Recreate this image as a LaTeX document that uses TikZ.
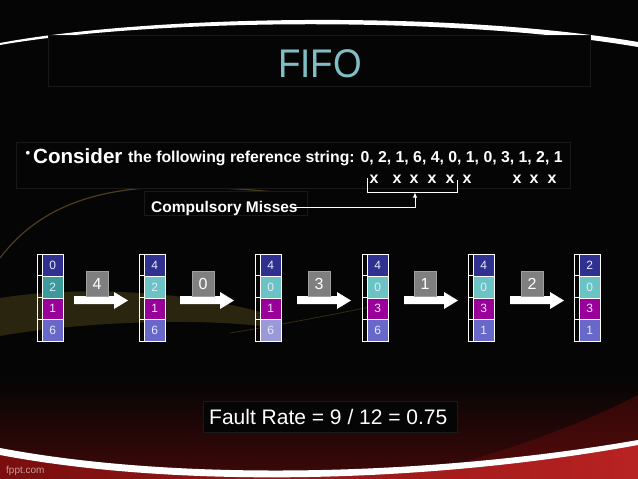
\documentclass[tikz,border=0pt]{standalone}
\usepackage{fontspec}
\setmainfont{Liberation Sans}
\usepackage{graphicx}
\usetikzlibrary{arrows.meta}
\definecolor{bgblack}{HTML}{050505}
\definecolor{boxline}{HTML}{191919}
\definecolor{titlecol}{HTML}{7EBEC4}
\definecolor{cdblue}{HTML}{2F3090}
\definecolor{cteal}{HTML}{3C9A9C}
\definecolor{clteal}{HTML}{6CC3C3}
\definecolor{cpurple}{HTML}{990099}
\definecolor{cslate}{HTML}{6868C8}
\definecolor{clslate}{HTML}{9A9AD8}
\definecolor{gbox}{HTML}{7F7F7F}
\definecolor{gboxline}{HTML}{A0A0A0}
\definecolor{celltext}{HTML}{E8E8FF}
\definecolor{redA}{HTML}{7A0E0E}
\definecolor{redB}{HTML}{B82222}
\definecolor{redDark}{HTML}{3A0808}
\definecolor{goldglow}{HTML}{3A3314}
\definecolor{goldline}{HTML}{7A6530}
\definecolor{fpptcol}{HTML}{C89A9A}
\begin{document}
\begin{tikzpicture}[x=1pt,y=-1pt,
  txtbox/.style={draw=boxline, fill=bgblack, line width=0.6pt},
  cellfront/.style={draw=white, line width=0.8pt, minimum width=20.5pt, minimum height=21.75pt, inner sep=0pt, anchor=north west, text=celltext, font=\fontsize{12}{14}\selectfont},
  cellback/.style={draw=white, line width=0.8pt},
  newpage/.style={draw=gboxline, fill=gbox, line width=0.6pt, minimum width=21.5pt, minimum height=25pt, inner sep=0pt, anchor=south west, text=white, font=\fontsize{16}{18}\selectfont},
  blockarrow/.style={fill=white},
  plaintext/.style={inner sep=0pt, text=white},
  missline/.style={white, line width=0.9pt}
]
% background
\useasboundingbox (0,0) rectangle (638,479);
\fill[bgblack] (0,0) rectangle (638,479);
% gold glow and swoosh on the left
\fill[goldglow, opacity=0.7] (0,298) .. controls (80,285) and (190,292) .. (260,312) -- (260,326) .. controls (190,318) and (80,322) .. (0,336) -- cycle;
\draw[goldline, line width=1.2pt, opacity=0.6] (0,258) .. controls (40,205) and (100,188) .. (170,187) .. controls (220,187) and (260,190) .. (290,194);
\draw[goldline, line width=0.8pt, opacity=0.4] (230,333) .. controls (280,325) and (330,315) .. (380,305);
% dark red glow above the bottom curve
\shade[top color=bgblack, bottom color=redDark] (0,380) rectangle (638,470);
\fill[redA, opacity=0.35] (470,460) .. controls (540,440) and (600,415) .. (638,395) -- (638,445) .. controls (580,460) and (520,466) .. (470,468) -- cycle;
% bottom red area
\shade[left color=redA, right color=redB] (0,452) .. controls (180,486) and (430,480) .. (638,443) -- (638,479) -- (0,479) -- cycle;
% bottom white curve
\fill[white] (0,448) .. controls (180,482) and (430,476) .. (638,440) -- (638,445) .. controls (430,483) and (180,489) .. (0,455) -- cycle;
% top white arc
\fill[white] (0,43) .. controls (150,15) and (450,10) .. (638,42) -- (638,47) .. controls (450,15) and (150,19) .. (0,45) -- cycle;
% text boxes
\draw[txtbox] (48,35) rectangle (590,86);
\draw[txtbox] (16,142) rectangle (570,188);
\draw[txtbox] (144,191) rectangle (307,215);
\draw[txtbox] (203,401) rectangle (457,432);
% title
\node[inner sep=0pt, text=titlecol, font=\fontsize{40}{44}\selectfont, anchor=base] (title) at (320,77) {\scalebox{0.92}[1]{FIFO}};
% reference string
\node[plaintext, anchor=center, font=\fontsize{13}{15}\selectfont\bfseries] (bul) at (28,154) {•};
\node[plaintext, anchor=base west, font=\fontsize{20.6}{24}\selectfont\bfseries] (cons) at (33,163) {Consider};
\node[plaintext, anchor=base west, font=\fontsize{15.8}{19}\selectfont\bfseries] (refs) at (128,162.5) {the following reference string: 0, 2, 1, 6, 4, 0, 1, 0, 3, 1, 2, 1};
% misses
\foreach \xx [count=\i] in {374,397,414,432,450,467,517,534,552}
  \node[plaintext, anchor=base, font=\fontsize{16}{19}\selectfont\bfseries] (x\i) at (\xx,183.5) {x};
% bracket and arrow
\coordinate (bTL) at (367,178);
\coordinate (bBL) at (367,192);
\coordinate (bBR) at (457,192);
\coordinate (bTR) at (457,180);
\coordinate (bMid) at (415,192.5);
\draw[missline] (bTL) -- (bBL) -- (bBR) -- (bTR);
\node[plaintext, anchor=base west, font=\fontsize{15.5}{18}\selectfont\bfseries] (cm) at (151,212) {Compulsory Misses};
\coordinate (cmStart) at (293,207);
\draw[missline, -{Latex[length=5pt,width=4.5pt]}] (cmStart) -| (bMid);
% stacks
\foreach \xl/\a/\ac/\b/\bc/\c/\cc/\d/\dc/\s in {
  42/0/cdblue/2/cteal/1/cpurple/6/cslate/1,
  144/4/cdblue/2/clteal/1/cpurple/6/cslate/2,
  260/4/cdblue/0/clteal/1/cpurple/6/clslate/3,
  367/4/cdblue/0/clteal/3/cpurple/6/cslate/4,
  473/4/cdblue/0/clteal/3/cpurple/1/cslate/5,
  579/2/cdblue/0/clteal/3/cpurple/1/cslate/6}{
  \foreach \k in {0,1,2,3}
    \draw[cellback] (\xl-5,254+\k*21.75) rectangle +(20.5,21.75);
  \node[cellfront, fill=\ac] (s\s a) at (\xl,254) {\a};
  \node[cellfront, fill=\bc] (s\s b) at (\xl,275.75) {\b};
  \node[cellfront, fill=\cc] (s\s c) at (\xl,297.5) {\c};
  \node[cellfront, fill=\dc] (s\s d) at (\xl,319.25) {\d};
}
% block arrows and new pages
\foreach \ax/\px/\pv [count=\i] in {74/86/4,180/192/0,297/308/3,404/414/1,510/521/2}{
  \fill[blockarrow] (\ax,296) -- (\ax+40,296) -- (\ax+40,292) -- (\ax+54,300.5) -- (\ax+40,309) -- (\ax+40,304) -- (\ax,304) -- cycle;
  \node[newpage] (p\i) at (\px,296.5) {\pv};
}
% fault rate
\node[plaintext, anchor=base west, font=\fontsize{21}{25}\selectfont] (fault) at (209,424) {Fault Rate = 9 / 12 = 0.75};
% footer
\node[inner sep=0pt, anchor=base west, text=fpptcol, font=\fontsize{10}{12}\selectfont] (fppt) at (6,473) {fppt.com};
\end{tikzpicture}
\end{document}
